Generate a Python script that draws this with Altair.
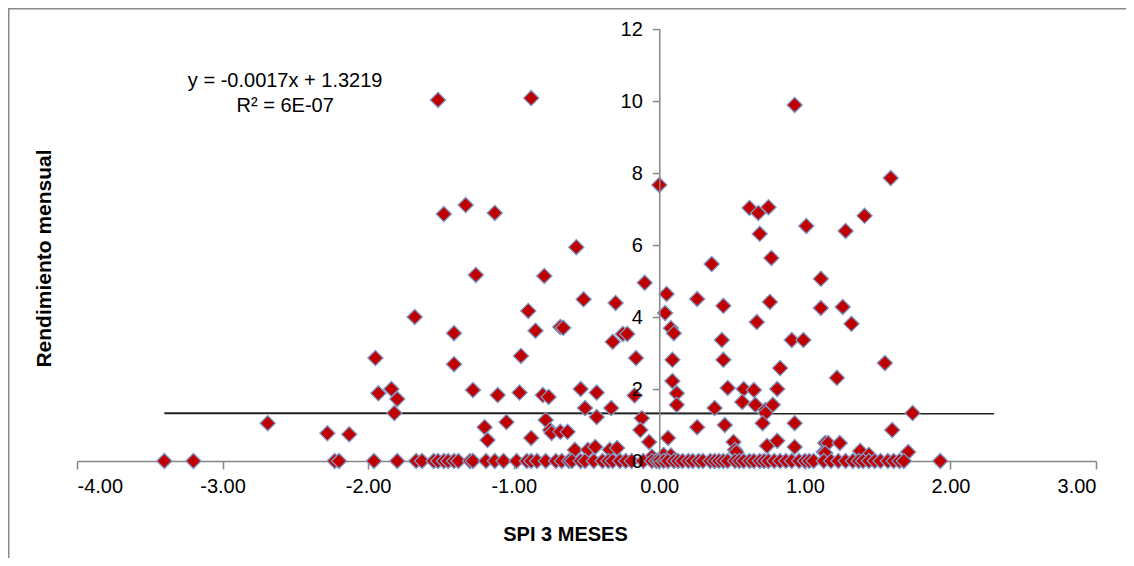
import altair as alt
import pandas as pd

# ---- data ----
spi_hi = [-1.52, -0.88, 0.93, 1.59, 0.00,
          -1.48, -1.33, -1.13,
          0.62, 0.68, 0.75, 1.41, 1.01, 1.28, 0.69,
          -0.57, 0.77, 0.36, -1.26, -0.79, 1.11, -0.10,
          0.05, -0.52, 0.26, -0.30, 0.76, 0.44, 1.11, 1.26, -0.90, 0.04, -1.68,
          0.67, 1.32, -0.68, -0.66, 0.08, -0.85, -1.41, 0.10, -0.25, -0.22, 0.43, 0.91, 0.99, -0.32,
          -1.95, -0.95, -0.16, 0.09, 0.44, 1.55, -1.41, 0.83, 1.22, 0.09]
rend_hi = [10.03, 10.08, 9.89, 7.86, 7.67,
           6.86, 7.11, 6.89,
           7.03, 6.89, 7.05, 6.81, 6.53, 6.39, 6.31,
           5.94, 5.64, 5.47, 5.17, 5.14, 5.06, 4.95,
           4.64, 4.49, 4.50, 4.39, 4.42, 4.31, 4.25, 4.28, 4.17, 4.11, 4.00,
           3.86, 3.81, 3.72, 3.70, 3.69, 3.62, 3.55, 3.55, 3.53, 3.53, 3.36, 3.36, 3.36, 3.31,
           2.86, 2.92, 2.86, 2.81, 2.81, 2.72, 2.69, 2.58, 2.31, 2.22]

spi_mid = [-1.93, -1.84, -1.80, -1.82,
           -1.28, -1.11, -0.96, -0.80, -0.76, -0.54, -0.43, -0.17,
           0.12, 0.47, 0.58, 0.65, 0.81,
           -0.51, -0.33, -0.43, -0.12, -0.13, -0.07,
           -1.20, -1.18, -1.05, -0.88, -0.78, -0.75, -0.74, -0.68, -0.63,
           -0.58, -0.49, -0.44, -0.34, -0.29,
           0.12, 0.06, 0.26, 0.38, 0.45, 0.57, 0.66, 0.73, 0.78, 0.73, 0.71, 0.93,
           0.51, 0.52, 0.53, 0.74, 0.81, 0.93, 1.14, 1.13, 1.16, 1.24, 1.14, 1.38, 1.44, 1.71, 1.60, 1.74,
           -2.69, -2.28, -2.13,
           0.03, 0.08, -0.05]
rend_mid = [1.88, 2.00, 1.72, 1.33,
            1.97, 1.83, 1.90, 1.83, 1.78, 2.00, 1.90, 1.82,
            1.88, 2.03, 2.00, 1.97, 2.00,
            1.47, 1.47, 1.22, 1.19, 0.86, 0.53,
            0.94, 0.58, 1.08, 0.64, 1.14, 0.86, 0.78, 0.81, 0.81,
            0.31, 0.31, 0.39, 0.31, 0.36,
            1.56, 0.64, 0.94, 1.47, 1.00, 1.64, 1.56, 1.42, 1.56, 1.33, 1.05, 1.05,
            0.53, 0.31, 0.25, 0.42, 0.56, 0.39, 0.50, 0.25, 0.50, 0.50, 0.22, 0.28, 0.17, 0.25, 0.86, 1.33,
            1.05, 0.77, 0.74,
            0.17, 0.15, 0.12]

spi_zero = [-3.40, -3.20, -2.23, -2.20, -1.96, -1.80, -1.67, -1.63, -1.55, -1.52, -1.48, -1.45,
            -1.41, -1.38, -1.30, -1.28, -1.19, -1.13, -1.07, -0.98, -0.91, -0.88, -0.84, -0.78,
            -0.71, -0.67, -0.62, -0.60, -0.54, -0.51, -0.45, -0.39, -0.35, -0.32, -0.27, -0.23,
            -0.19, -0.11, -0.05, -0.02, 0.00, 0.03, 0.06, 0.10, 0.13, 0.16, 0.20, 0.23, 0.27,
            0.30, 0.35, 0.38, 0.41, 0.44, 0.47, 0.52, 0.55, 0.58, 0.62, 0.65, 0.69, 0.72, 0.75,
            0.79, 0.83, 0.87, 0.91, 0.96, 1.00, 1.03, 1.06, 1.13, 1.18, 1.23, 1.28, 1.33, 1.37,
            1.40, 1.44, 1.48, 1.52, 1.57, 1.61, 1.65, 1.68, 1.93]

x_ticks = [-4, -3, -2, -1, 0, 1, 2, 3]
y_ticks = [0, 2, 4, 6, 8, 10, 12]

trend_slope = -0.0017
trend_icept = 1.3219
trend_x = [-3.40, 2.30]
eq_text = ["y = -0.0017x + 1.3219", "R² = 6E-07"]

x_title = "SPI 3 MESES"
y_title = "Rendimiento mensual"

# ---- tables ----
pts = pd.DataFrame({
    "spi": spi_hi + spi_mid + spi_zero,
    "rend": rend_hi + rend_mid + [0.0] * len(spi_zero),
})
trend = pd.DataFrame({"spi": trend_x,
                      "rend": [trend_icept + trend_slope * v for v in trend_x]})
eq = pd.DataFrame({"spi": [-2.57], "rend": [10.4]})

W, H = 1019, 432
FONT = "Liberation Sans"
AXC = "#868686"
x0px = W * 4 / 7  # pixel of x = 0

xscale = alt.Scale(domain=[-4, 3], nice=False, zero=False)
yscale = alt.Scale(domain=[0, 12], nice=False)

xaxis = alt.Axis(values=x_ticks, grid=False, domainColor=AXC, domainWidth=1.5,
                 labelExpr="(datum.value < 0 ? '-' : '') + format(abs(datum.value), '.2f')",
                 tickColor=AXC, tickWidth=1.5, tickSize=8, labelPadding=7,
                 labelFont=FONT, labelFontSize=20, labelColor="#000000",
                 title=x_title, titleFont=FONT, titleFontSize=20, titleFontWeight="bold",
                 titleColor="#000000", titleX=488, titleY=79, titleBaseline="alphabetic")
yaxis = alt.Axis(values=y_ticks, format="d", grid=False, offset=-x0px, domainColor=AXC,
                 domainWidth=1.5, tickColor=AXC, tickWidth=1.5, tickSize=7, labelPadding=10,
                 labelFont=FONT, labelFontSize=20, labelColor="#000000", zindex=1,
                 title=y_title, titleFont=FONT, titleFontSize=21, titleFontWeight="bold",
                 titleColor="#000000", titleX=44 - 77 - x0px, titleY=229,
                 titleBaseline="middle", titleAngle=270)

line = alt.Chart(trend).mark_line(color="#222222", strokeWidth=2).encode(
    x=alt.X("spi:Q", scale=xscale, axis=xaxis),
    y=alt.Y("rend:Q", scale=yscale, axis=yaxis),
)
points = alt.Chart(pts).mark_point(shape="diamond", filled=True, size=230, fill="#C00000",
                                   stroke="#7E97C6", strokeWidth=1.3, opacity=1).encode(
    x=alt.X("spi:Q", scale=xscale),
    y=alt.Y("rend:Q", scale=yscale),
)
eqtext = alt.Chart(eq).mark_text(text=eq_text, font=FONT, fontSize=20, color="#000000",
                                 align="center", baseline="alphabetic", lineHeight=25).encode(
    x=alt.X("spi:Q", scale=xscale),
    y=alt.Y("rend:Q", scale=yscale),
)
border_top = alt.Chart().mark_rule(color="#8A8A8A", strokeWidth=2).encode(
    x=alt.value(-69), x2=alt.value(W + 40), y=alt.value(-20.5))
border_left = alt.Chart().mark_rule(color="#8A8A8A", strokeWidth=2).encode(
    x=alt.value(-68.5), y=alt.value(-21), y2=alt.value(H + 120))

chart = alt.layer(border_top, border_left, line, points, eqtext).properties(
    width=W, height=H,
    autosize=alt.AutoSizeParams(type="none"),
    padding={"left": 69, "top": 21, "right": 30, "bottom": 97},
).configure_view(stroke=None)

chart.save("out.html", embed_options={"renderer": "svg", "actions": False})
